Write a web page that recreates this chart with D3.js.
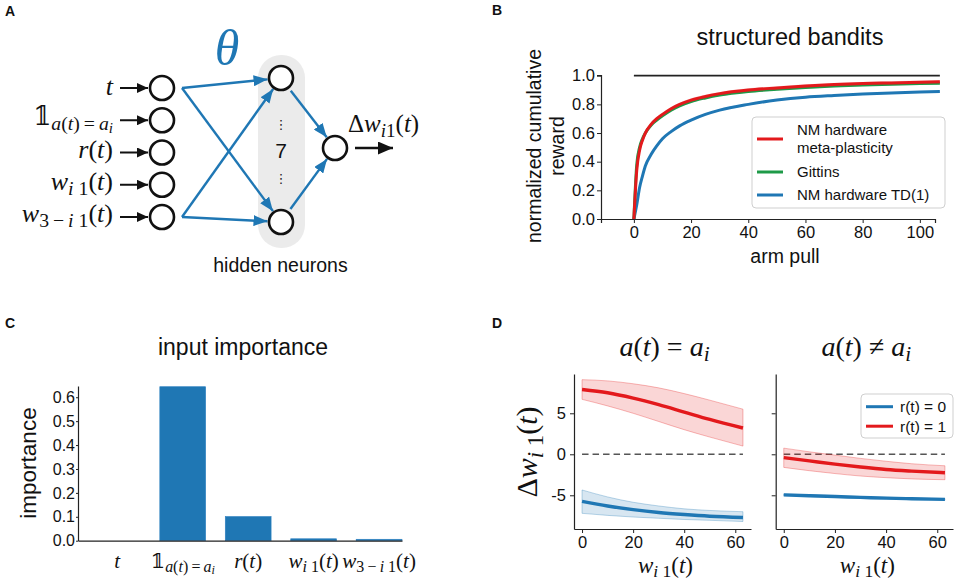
<!DOCTYPE html>
<html><head><meta charset="utf-8">
<script src="https://cdn.jsdelivr.net/npm/d3@7"></script>
<style>body{margin:0;background:#fff}svg{display:block}</style>
</head><body>
<svg id="fig" width="957" height="582"></svg>
<script>
// ---------------- DATA ----------------
// Panel A: network inputs
const inputLabels = [
  [['t','0i']],
  [['𝟙','0r'],['a','1i'],['(','1r'],['t','1i'],[')\u2009=\u2009','1r'],['a','1i'],['i','2i']],
  [['r','0i'],['(','0r'],['t','0i'],[')','0r']],
  [['w','0i'],['i','1i'],[' 1','1r'],['(','0r'],['t','0i'],[')','0r']],
  [['w','0i'],['3\u2009−\u2009','1r'],['i','1i'],[' 1','1r'],['(','0r'],['t','0i'],[')','0r']]
];
const hiddenCount = 7;
const hiddenLabel = 'hidden neurons';
const outputLabel = [['Δ','0r'],['w','0i'],['i','1i'],['1','1r'],['(','0r'],['t','0i'],[')','0r']];

// Panel B: structured bandits
const armPulls      = [0,1,2,3,4,6,8,10,13,16,20,25,30,40,50,60,70,80,90,100,107];
const rewardMeta    = [0,0.34,0.48,0.55,0.60,0.66,0.70,0.73,0.77,0.80,0.83,0.855,0.875,0.90,0.915,0.928,0.938,0.945,0.95,0.955,0.958];
const rewardGittins = [0,0.38,0.50,0.56,0.60,0.655,0.69,0.72,0.76,0.79,0.82,0.845,0.865,0.89,0.905,0.918,0.928,0.935,0.94,0.945,0.948];
const rewardTD1     = [0,0.10,0.22,0.30,0.37,0.45,0.51,0.56,0.61,0.65,0.69,0.73,0.76,0.80,0.83,0.85,0.862,0.872,0.88,0.886,0.89];
const rewardSpread  = [0.012, 0.009, 0.007]; // meta, gittins, td1 band half-widths
const optimalReward = 1.0;
const bSeriesNames  = [['NM hardware','meta-plasticity'], ['Gittins'], ['NM hardware TD(1)']];
const bXTicks = [0,20,40,60,80,100];
const bYTicks = [0,0.2,0.4,0.6,0.8,1.0];

// Panel C: input importance
const importanceValues = [0.0, 0.644, 0.101, 0.008, 0.006];
const cYTicks = [0,0.1,0.2,0.3,0.4,0.5,0.6];

// Panel D: weight updates
const weightX   = [0,10,20,30,40,50,63];
const sameR1    = [7.9,7.5,6.85,6.05,5.15,4.25,3.2];
const sameR1Lo  = [6.7,5.9,5.0,4.0,3.0,2.1,1.0];
const sameR1Hi  = [9.1,8.95,8.6,8.1,7.4,6.6,5.5];
const sameR0    = [-5.75,-6.3,-6.75,-7.1,-7.35,-7.55,-7.7];
const sameR0Lo  = [-7.2,-7.45,-7.65,-7.8,-7.95,-8.05,-8.2];
const sameR0Hi  = [-4.35,-5.2,-5.85,-6.3,-6.65,-6.85,-7.0];
const diffR1    = [-0.4,-0.8,-1.2,-1.55,-1.85,-2.05,-2.25];
const diffR1Lo  = [-1.6,-2.0,-2.35,-2.65,-2.85,-3.0,-3.1];
const diffR1Hi  = [0.75,0.3,-0.1,-0.5,-0.85,-1.15,-1.4];
const diffR0    = [-4.95,-5.05,-5.15,-5.25,-5.35,-5.42,-5.5];
const diffR0Lo  = [-5.05,-5.15,-5.25,-5.35,-5.45,-5.52,-5.6];
const diffR0Hi  = [-4.85,-4.95,-5.05,-5.15,-5.25,-5.32,-5.4];
const dXTicks = [0,20,40,60];
const dYTicks = [-5,0,5];
const dLegend = ['r(t) = 0','r(t) = 1'];

// ---------------- STYLE ----------------
const SANS = "'Liberation Sans', Arial, Helvetica, sans-serif";
const MATH = "'Liberation Serif', 'Times New Roman', 'DejaVu Serif', 'DejaVu Sans', serif";
const BLUE = '#1f77b4', RED = '#e3191c', GREEN = '#1e9a48', AX = '#222';

const svg = d3.select('#fig');
svg.append('rect').attr('width',957).attr('height',582).attr('fill','#fff');

function mathText(parent, segs, size) {
  const t = parent.append('text').attr('font-family', MATH).attr('font-size', size)
    .style('white-space','pre').attr('fill','#111');
  const sc = [1, 0.76, 0.58], sh = [0, 0.19, 0.28];
  let lvl = 0;
  segs.forEach(([s, st]) => {
    const lv = +st[0];
    const ts = t.append('tspan').text(s)
      .attr('font-size', size*sc[lv])
      .attr('font-style', st[1]==='i' ? 'italic' : 'normal');
    const d = (sh[lv]-sh[lvl])*size;
    if (d) ts.attr('dy', d);
    lvl = lv;
  });
  return t;
}
function panelLetter(s, x, y) {
  svg.append('text').attr('x',x).attr('y',y).text(s)
    .attr('font-family',SANS).attr('font-weight','bold').attr('font-size',14).attr('fill','#111');
}
function styleAxis(g, fs) {
  g.attr('font-family', SANS).attr('font-size', fs);
  g.selectAll('.domain').attr('stroke', AX).attr('stroke-width', 1.2);
  g.selectAll('.tick line').attr('stroke', AX).attr('stroke-width', 1);
  g.selectAll('.tick text').attr('fill', '#111');
}

// ---------------- PANEL A ----------------
panelLetter('A', 5, 16);
const gA = svg.append('g');
const defs = svg.append('defs');
function marker(id, color, len, wid) {
  defs.append('marker').attr('id', id).attr('markerUnits','userSpaceOnUse')
    .attr('markerWidth', len).attr('markerHeight', wid).attr('refX', len).attr('refY', wid/2)
    .attr('orient','auto')
    .append('path').attr('d', `M0,0L${len},${wid/2}L0,${wid}Z`).attr('fill', color);
}
marker('arrBlue', BLUE, 14, 11);
marker('arrBlack', '#111', 11, 10);
marker('arrBlackBig', '#111', 15, 13);

const inX = 162, hidX = 281, outX = 335, R = 12;
const inY = d3.scalePoint().domain(d3.range(inputLabels.length)).range([88, 217]);
const hidY = d3.scalePoint().domain([0,1]).range([78, 222]);
const outY = 148;

gA.append('rect').attr('x', hidX-23).attr('y', 55).attr('width', 47).attr('height', 193)
  .attr('rx', 23).attr('fill', '#ebebeb');

function blueArrow(x1,y1,x2,y2,endOff){
  const dx=x2-x1, dy=y2-y1, L=Math.hypot(dx,dy);
  gA.append('line').attr('x1',x1).attr('y1',y1)
    .attr('x2',x2-dx/L*endOff).attr('y2',y2-dy/L*endOff)
    .attr('stroke',BLUE).attr('stroke-width',2.4).attr('marker-end','url(#arrBlue)');
}
const srcIdx = [0, inputLabels.length-1];
srcIdx.forEach(i => {
  [0,1].forEach(h => blueArrow(inX+20, inY(i), hidX, hidY(h), R+1.5));
});
[0,1].forEach(h => {
  const dx = outX-hidX, dy = outY-hidY(h), L=Math.hypot(dx,dy);
  blueArrow(hidX+dx/L*(R+4), hidY(h)+dy/L*(R+4), outX, outY, R+1.5);
});

inputLabels.forEach((lab,i) => {
  gA.append('line').attr('x1',120).attr('y1',inY(i)).attr('x2',148).attr('y2',inY(i))
    .attr('stroke','#111').attr('stroke-width',2).attr('marker-end','url(#arrBlack)');
  mathText(gA, lab, 26).attr('x',113).attr('y', inY(i)+ (i===0?7:5)).attr('text-anchor','end');
});
gA.selectAll('circle.in').data(inputLabels).join('circle').attr('class','in')
  .attr('cx',inX).attr('cy',(d,i)=>inY(i)).attr('r',R)
  .attr('fill','#fff').attr('stroke','#111').attr('stroke-width',2.6);
gA.selectAll('circle.hid').data([0,1]).join('circle').attr('class','hid')
  .attr('cx',hidX).attr('cy',d=>hidY(d)).attr('r',R)
  .attr('fill','#fff').attr('stroke','#111').attr('stroke-width',2.6);
gA.append('circle').attr('cx',outX).attr('cy',outY).attr('r',R)
  .attr('fill','#fff').attr('stroke','#111').attr('stroke-width',2.6);
gA.append('text').attr('x',hidX).attr('y',129).attr('text-anchor','middle')
  .attr('font-family',"'DejaVu Sans', sans-serif").attr('font-size',13).text('⋮').attr('fill','#222');
gA.append('text').attr('x',hidX).attr('y',183).attr('text-anchor','middle')
  .attr('font-family',"'DejaVu Sans', sans-serif").attr('font-size',13).text('⋮').attr('fill','#222');
gA.append('text').attr('x',hidX).attr('y',158).attr('text-anchor','middle')
  .attr('font-family',SANS).attr('font-size',21).text(hiddenCount).attr('fill','#111');
gA.append('text').attr('x',280.5).attr('y',272).attr('text-anchor','middle')
  .attr('font-family',SANS).attr('font-size',19.5).text(hiddenLabel).attr('fill','#111');
gA.append('text').attr('x',227).attr('y',65).attr('text-anchor','middle')
  .attr('font-family',MATH).attr('font-style','italic').attr('font-size',50)
  .attr('fill',BLUE).text('θ');
gA.append('line').attr('x1',355).attr('y1',outY).attr('x2',393).attr('y2',outY)
  .attr('stroke','#111').attr('stroke-width',2.6).attr('marker-end','url(#arrBlackBig)');
mathText(gA, outputLabel, 25).attr('x',348).attr('y',132);

// ---------------- PANEL B ----------------
panelLetter('B', 492, 15);
const gB = svg.append('g');
const xB = d3.scaleLinear().domain([-11.5, 105.3]).range([601, 935]);
const yB = d3.scaleLinear().domain([0, 1.005]).range([219, 75]);
gB.append('text').attr('x',790).attr('y',45).attr('text-anchor','middle')
  .attr('font-family',SANS).attr('font-size',23.5).attr('fill','#111').text('structured bandits');
const axBx = gB.append('g').attr('transform','translate(0,219)')
  .call(d3.axisBottom(xB).tickValues(bXTicks).tickSizeOuter(0).tickSize(4).tickPadding(3).tickFormat(d3.format('d')));
styleAxis(axBx, 16.5);
const axBy = gB.append('g').attr('transform','translate(601,0)')
  .call(d3.axisLeft(yB).tickValues(bYTicks).tickSizeOuter(0).tickSize(4).tickPadding(2).tickFormat(d3.format('.1f')));
styleAxis(axBy, 16.5);
gB.append('text').attr('x',785).attr('y',263).attr('text-anchor','middle')
  .attr('font-family',SANS).attr('font-size',19.5).attr('fill','#111').text('arm pull');
const yLabB = gB.append('text').attr('transform','translate(545,146) rotate(-90)')
  .attr('text-anchor','middle').attr('font-family',SANS).attr('font-size',19.5).attr('fill','#111');
yLabB.append('tspan').attr('x',0).attr('dy',-4).text('normalized cumulative');
yLabB.append('tspan').attr('x',0).attr('dy',23).text('reward');
gB.append('line').attr('x1',xB(armPulls[0])).attr('x2',xB(armPulls[armPulls.length-1]))
  .attr('y1',yB(optimalReward)).attr('y2',yB(optimalReward)).attr('stroke','#222').attr('stroke-width',1.8);
const bSeries = [
  {vals: rewardTD1, color: BLUE, spread: rewardSpread[2]},
  {vals: rewardGittins, color: GREEN, spread: rewardSpread[1]},
  {vals: rewardMeta, color: RED, spread: rewardSpread[0]},
];
const lineB = d3.line().curve(d3.curveMonotoneX).x(d=>xB(d[0])).y(d=>yB(d[1]));
const areaB = d3.area().curve(d3.curveMonotoneX).x(d=>xB(d[0])).y0(d=>yB(d[1])).y1(d=>yB(d[2]));
bSeries.forEach(s => {
  const pts = armPulls.map((a,i)=>[a, s.vals[i]]);
  const band = armPulls.map((a,i)=>[a, Math.max(0,s.vals[i]-s.spread*Math.min(1,i)), s.vals[i]+s.spread*Math.min(1,i)]);
  gB.append('path').attr('d', areaB(band)).attr('fill', s.color).attr('opacity', 0.18);
  gB.append('path').attr('d', lineB(pts)).attr('fill','none').attr('stroke', s.color).attr('stroke-width', 3);
});
const legB = gB.append('g');
legB.append('rect').attr('x',752).attr('y',117).attr('width',193).attr('height',91).attr('rx',4)
  .attr('fill','#fff').attr('fill-opacity',0.85).attr('stroke','#cfcfcf').attr('stroke-width',1);
const legColors = [RED, GREEN, BLUE];
let ly = 139;
bSeriesNames.forEach((names, k) => {
  legB.append('line').attr('x1',757).attr('x2',783).attr('y1',ly).attr('y2',ly)
    .attr('stroke',legColors[k]).attr('stroke-width',3);
  names.forEach((nm, j) => {
    legB.append('text').attr('x',797).attr('y', ly+5-(names.length-1)*9+j*18)
      .attr('font-family',SANS).attr('font-size',15).attr('fill','#111').text(nm);
  });
  ly += 23 + (names.length-1)*10;
});

// ---------------- PANEL C ----------------
panelLetter('C', 5, 328);
const gC = svg.append('g');
const xC = d3.scaleLinear().domain([-0.6, 4.35]).range([78, 402]);
const yC = d3.scaleLinear().domain([0, 0.647]).range([540.7, 386]);
gC.append('text').attr('x',243).attr('y',355).attr('text-anchor','middle')
  .attr('font-family',SANS).attr('font-size',23).attr('fill','#111').text('input importance');
gC.selectAll('rect.bar').data(importanceValues).join('rect').attr('class','bar')
  .attr('x',(d,i)=>xC(i-0.35)).attr('width',xC(0.35)-xC(-0.35))
  .attr('y',d=>yC(d)).attr('height',d=>yC(0)-yC(d))
  .attr('fill','#1f77b4').attr('stroke','#2a7fc0').attr('stroke-width',0.6);
const axCx = gC.append('g').attr('transform',`translate(0,${yC(0)})`)
  .call(d3.axisBottom(xC).tickValues(d3.range(importanceValues.length)).tickSize(0).tickSizeOuter(0).tickFormat(''));
styleAxis(axCx, 16);
const axCy = gC.append('g').attr('transform','translate(78,0)')
  .call(d3.axisLeft(yC).tickValues(cYTicks).tickSize(2).tickSizeOuter(0).tickPadding(1).tickFormat(d3.format('.1f')));
styleAxis(axCy, 16);
inputLabels.forEach((lab,i) => {
  mathText(gC, lab, 21).attr('x', xC(i)).attr('y', 568).attr('text-anchor','middle');
});
gC.append('text').attr('transform','translate(36,463) rotate(-90)').attr('text-anchor','middle')
  .attr('font-family',SANS).attr('font-size',22.5).attr('fill','#111').text('importance');

// ---------------- PANEL D ----------------
panelLetter('D', 492, 328);
const gD = svg.append('g');
const yD = d3.scaleLinear().domain([-9.11, 9.79]).range([529, 374]);
const panelsD = [
  {range:[574,751], title:[['a','0i'],['(','0r'],['t','0i'],[') = ','0r'],['a','0i'],['i','1i']],
   r0:[sameR0,sameR0Lo,sameR0Hi], r1:[sameR1,sameR1Lo,sameR1Hi], labels:true},
  {range:[775.7,953], title:[['a','0i'],['(','0r'],['t','0i'],[') ≠ ','0r'],['a','0i'],['i','1i']],
   r0:[diffR0,diffR0Lo,diffR0Hi], r1:[diffR1,diffR1Lo,diffR1Hi], labels:false},
];
const wLabel = [['w','0i'],['i','1i'],[' 1','1r'],['(','0r'],['t','0i'],[')','0r']];
panelsD.forEach(p => {
  const x = d3.scaleLinear().domain([-3.15, 66.15]).range(p.range);
  const g = gD.append('g');
  const ax = g.append('g').attr('transform','translate(0,529)')
    .call(d3.axisBottom(x).tickValues(dXTicks).tickSize(4).tickPadding(3).tickSizeOuter(0));
  styleAxis(ax, 16.5);
  const ay = g.append('g').attr('transform',`translate(${p.range[0]},0)`)
    .call(d3.axisLeft(yD).tickValues(dYTicks).tickSize(4).tickPadding(4).tickSizeOuter(0)
      .tickFormat(p.labels ? (d=>String(d)) : ''));
  styleAxis(ay, 16.5);
  const cx = (x(0)+x(63))/2;
  mathText(g, p.title, 28).attr('x', cx+2).attr('y', 356).attr('text-anchor','middle');
  mathText(g, wLabel, 23).attr('x', cx+3).attr('y', 573).attr('text-anchor','middle');
  g.append('line').attr('x1',x(weightX[0])).attr('x2',x(weightX[weightX.length-1]))
    .attr('y1',yD(0)).attr('y2',yD(0)).attr('stroke','#555').attr('stroke-width',1.5)
    .attr('stroke-dasharray','6.5,4');
  const area = d3.area().curve(d3.curveMonotoneX).x((d,i)=>x(weightX[i])).y0(d=>yD(d[0])).y1(d=>yD(d[1]));
  const line = d3.line().curve(d3.curveMonotoneX).x((d,i)=>x(weightX[i])).y(d=>yD(d));
  [[p.r0, BLUE],[p.r1, RED]].forEach(([ser, col]) => {
    const band = ser[1].map((lo,i)=>[lo, ser[2][i]]);
    g.append('path').attr('d', area(band)).attr('fill', col).attr('fill-opacity', 0.18)
      .attr('stroke', col).attr('stroke-opacity', 0.3).attr('stroke-width', 1);
    g.append('path').attr('d', line(ser[0])).attr('fill','none').attr('stroke', col).attr('stroke-width', 3.4);
  });
});
mathText(gD, [['Δ','0r'],['w','0i'],['i','1i'],[' 1','1r'],['(','0r'],['t','0i'],[')','0r']], 30)
  .attr('text-anchor','middle').attr('transform','translate(537,452) rotate(-90)');
const legD = gD.append('g');
legD.append('rect').attr('x',861).attr('y',394).attr('width',92).attr('height',44).attr('rx',4)
  .attr('fill','#fff').attr('fill-opacity',0.85).attr('stroke','#cfcfcf');
dLegend.forEach((nm,k) => {
  const yy = 406.7 + k*19.5;
  legD.append('line').attr('x1',866).attr('x2',893).attr('y1',yy).attr('y2',yy)
    .attr('stroke',[BLUE,RED][k]).attr('stroke-width',3);
  legD.append('text').attr('x',900).attr('y',yy+5.5).attr('font-family',SANS).attr('font-size',15.5)
    .attr('fill','#111').text(nm);
});
</script>
</body></html>
